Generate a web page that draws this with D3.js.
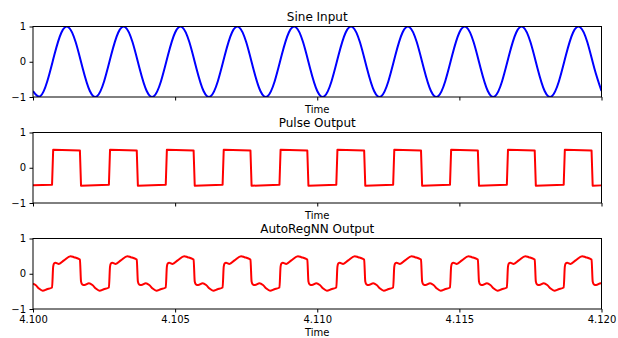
<!DOCTYPE html>
<html>
<head>
<meta charset="utf-8">
<script src="https://cdn.jsdelivr.net/npm/d3@7"></script>
<style>
  body { margin: 0; background: #fff; }
  text { font-family: "DejaVu Sans", sans-serif; }
</style>
</head>
<body>
<div id="chart"></div>
<script>
// time axis ticks
var xTicks = [4.100, 4.105, 4.110, 4.115, 4.120];
var yTicks = [-1, 0, 1];
var titles = ["Sine Input", "Pulse Output", "AutoRegNN Output"];

// sine input, [time, value]
var sineData = [
  [4.10000,-0.83],[4.10025,-0.98],[4.10050,-0.56],[4.10075,0.19],[4.10100,0.83],[4.10125,0.98],[4.10150,0.56],[4.10175,-0.19],
  [4.10200,-0.83],[4.10225,-0.98],[4.10250,-0.56],[4.10275,0.19],[4.10300,0.83],[4.10325,0.98],[4.10350,0.56],[4.10375,-0.19],
  [4.10400,-0.83],[4.10425,-0.98],[4.10450,-0.56],[4.10475,0.19],[4.10500,0.83],[4.10525,0.98],[4.10550,0.56],[4.10575,-0.19],
  [4.10600,-0.83],[4.10625,-0.98],[4.10650,-0.56],[4.10675,0.19],[4.10700,0.83],[4.10725,0.98],[4.10750,0.56],[4.10775,-0.19],
  [4.10800,-0.83],[4.10825,-0.98],[4.10850,-0.56],[4.10875,0.19],[4.10900,0.83],[4.10925,0.98],[4.10950,0.56],[4.10975,-0.19],
  [4.11000,-0.83],[4.11025,-0.98],[4.11050,-0.56],[4.11075,0.19],[4.11100,0.83],[4.11125,0.98],[4.11150,0.56],[4.11175,-0.19],
  [4.11200,-0.83],[4.11225,-0.98],[4.11250,-0.56],[4.11275,0.19],[4.11300,0.83],[4.11325,0.98],[4.11350,0.56],[4.11375,-0.19],
  [4.11400,-0.83],[4.11425,-0.98],[4.11450,-0.56],[4.11475,0.19],[4.11500,0.83],[4.11525,0.98],[4.11550,0.56],[4.11575,-0.19],
  [4.11600,-0.83],[4.11625,-0.98],[4.11650,-0.56],[4.11675,0.19],[4.11700,0.83],[4.11725,0.98],[4.11750,0.56],[4.11775,-0.19],
  [4.11800,-0.83],[4.11825,-0.98],[4.11850,-0.56],[4.11875,0.19],[4.11900,0.83],[4.11925,0.98],[4.11950,0.56],[4.11975,-0.19],
  [4.12000,-0.83]
];

// pulse output
var pulseData = [
  [4.10000,-0.50],
  [4.10067,-0.48],[4.10071,0.51],[4.10165,0.49],[4.10169,-0.51],
  [4.10267,-0.48],[4.10271,0.51],[4.10365,0.49],[4.10369,-0.51],
  [4.10467,-0.48],[4.10471,0.51],[4.10565,0.49],[4.10569,-0.51],
  [4.10667,-0.48],[4.10671,0.51],[4.10765,0.49],[4.10769,-0.51],
  [4.10867,-0.48],[4.10871,0.51],[4.10965,0.49],[4.10969,-0.51],
  [4.11067,-0.48],[4.11071,0.51],[4.11165,0.49],[4.11169,-0.51],
  [4.11267,-0.48],[4.11271,0.51],[4.11365,0.49],[4.11369,-0.51],
  [4.11467,-0.48],[4.11471,0.51],[4.11565,0.49],[4.11569,-0.51],
  [4.11667,-0.48],[4.11671,0.51],[4.11765,0.49],[4.11769,-0.51],
  [4.11867,-0.48],[4.11871,0.51],[4.11965,0.49],[4.11969,-0.51],
  [4.12000,-0.50]
];

// AutoRegNN output
var nnData = [
  [4.10000,-0.28],[4.10009,-0.32],[4.10021,-0.42],[4.10034,-0.48],[4.10049,-0.44],
  [4.10067,-0.39],[4.10071,0.20],[4.10074,0.29],[4.10079,0.31],[4.10091,0.28],[4.10109,0.38],[4.10132,0.50],[4.10144,0.47],[4.10161,0.42],[4.10165,0.40],[4.10169,-0.22],[4.10173,-0.30],[4.10181,-0.32],[4.10197,-0.27],[4.10209,-0.32],[4.10221,-0.42],[4.10234,-0.48],[4.10249,-0.44],
  [4.10267,-0.39],[4.10271,0.20],[4.10274,0.29],[4.10279,0.31],[4.10291,0.28],[4.10309,0.38],[4.10332,0.50],[4.10344,0.47],[4.10361,0.42],[4.10365,0.40],[4.10369,-0.22],[4.10373,-0.30],[4.10381,-0.32],[4.10397,-0.27],[4.10409,-0.32],[4.10421,-0.42],[4.10434,-0.48],[4.10449,-0.44],
  [4.10467,-0.39],[4.10471,0.20],[4.10474,0.29],[4.10479,0.31],[4.10491,0.28],[4.10509,0.38],[4.10532,0.50],[4.10544,0.47],[4.10561,0.42],[4.10565,0.40],[4.10569,-0.22],[4.10573,-0.30],[4.10581,-0.32],[4.10597,-0.27],[4.10609,-0.32],[4.10621,-0.42],[4.10634,-0.48],[4.10649,-0.44],
  [4.10667,-0.39],[4.10671,0.20],[4.10674,0.29],[4.10679,0.31],[4.10691,0.28],[4.10709,0.38],[4.10732,0.50],[4.10744,0.47],[4.10761,0.42],[4.10765,0.40],[4.10769,-0.22],[4.10773,-0.30],[4.10781,-0.32],[4.10797,-0.27],[4.10809,-0.32],[4.10821,-0.42],[4.10834,-0.48],[4.10849,-0.44],
  [4.10867,-0.39],[4.10871,0.20],[4.10874,0.29],[4.10879,0.31],[4.10891,0.28],[4.10909,0.38],[4.10932,0.50],[4.10944,0.47],[4.10961,0.42],[4.10965,0.40],[4.10969,-0.22],[4.10973,-0.30],[4.10981,-0.32],[4.10997,-0.27],[4.11009,-0.32],[4.11021,-0.42],[4.11034,-0.48],[4.11049,-0.44],
  [4.11067,-0.39],[4.11071,0.20],[4.11074,0.29],[4.11079,0.31],[4.11091,0.28],[4.11109,0.38],[4.11132,0.50],[4.11144,0.47],[4.11161,0.42],[4.11165,0.40],[4.11169,-0.22],[4.11173,-0.30],[4.11181,-0.32],[4.11197,-0.27],[4.11209,-0.32],[4.11221,-0.42],[4.11234,-0.48],[4.11249,-0.44],
  [4.11267,-0.39],[4.11271,0.20],[4.11274,0.29],[4.11279,0.31],[4.11291,0.28],[4.11309,0.38],[4.11332,0.50],[4.11344,0.47],[4.11361,0.42],[4.11365,0.40],[4.11369,-0.22],[4.11373,-0.30],[4.11381,-0.32],[4.11397,-0.27],[4.11409,-0.32],[4.11421,-0.42],[4.11434,-0.48],[4.11449,-0.44],
  [4.11467,-0.39],[4.11471,0.20],[4.11474,0.29],[4.11479,0.31],[4.11491,0.28],[4.11509,0.38],[4.11532,0.50],[4.11544,0.47],[4.11561,0.42],[4.11565,0.40],[4.11569,-0.22],[4.11573,-0.30],[4.11581,-0.32],[4.11597,-0.27],[4.11609,-0.32],[4.11621,-0.42],[4.11634,-0.48],[4.11649,-0.44],
  [4.11667,-0.39],[4.11671,0.20],[4.11674,0.29],[4.11679,0.31],[4.11691,0.28],[4.11709,0.38],[4.11732,0.50],[4.11744,0.47],[4.11761,0.42],[4.11765,0.40],[4.11769,-0.22],[4.11773,-0.30],[4.11781,-0.32],[4.11797,-0.27],[4.11809,-0.32],[4.11821,-0.42],[4.11834,-0.48],[4.11849,-0.44],
  [4.11867,-0.39],[4.11871,0.20],[4.11874,0.29],[4.11879,0.31],[4.11891,0.28],[4.11909,0.38],[4.11932,0.50],[4.11944,0.47],[4.11961,0.42],[4.11965,0.40],[4.11969,-0.22],[4.11973,-0.30],[4.11981,-0.32],[4.11997,-0.27],
  [4.12000,-0.28]
];

// create the chart area
var svgwidth = 618;
var svgheight = 338;
var left = 33, right = 601.5;
var panelheight = 70.5;
var panelTops = [26.5, 132.5, 238.5];

var svg = d3.select("#chart").append("svg")
  .attr("width", svgwidth)
  .attr("height", svgheight)
  .style("display", "block");

var xscale = d3.scaleLinear()
  .domain([4.100, 4.120])
  .range([left, right]);

var panels = [
  { data: sineData, color: "#0000ff", curve: d3.curveNatural },
  { data: pulseData, color: "#ff0000", curve: d3.curveLinear },
  { data: nnData, color: "#ff0000", curve: d3.curveMonotoneX }
];

panels.forEach(function(p, i) {
  var top = panelTops[i];
  var bottom = top + panelheight;
  var last = i === panels.length - 1;

  var yscale = d3.scaleLinear()
    .domain([-1, 1])
    .range([bottom, top]);

  var g = svg.append("g");

  // clip the line to the axes box
  g.append("clipPath")
    .attr("id", "clip" + i)
    .append("rect")
    .attr("x", left)
    .attr("y", top)
    .attr("width", right - left)
    .attr("height", panelheight);

  var line = d3.line()
    .x(d => xscale(d[0]))
    .y(d => yscale(d[1]))
    .curve(p.curve);

  g.append("path")
    .datum(p.data)
    .attr("clip-path", "url(#clip" + i + ")")
    .attr("fill", "none")
    .attr("stroke", p.color)
    .attr("stroke-width", 2)
    .attr("stroke-linejoin", "round")
    .attr("d", line);

  // frame
  g.append("rect")
    .attr("x", left)
    .attr("y", top)
    .attr("width", right - left)
    .attr("height", panelheight)
    .attr("fill", "none")
    .attr("stroke", "#000")
    .attr("stroke-width", 1);

  // y axis
  g.append("g")
    .attr("transform", `translate(${left}, 0)`)
    .call(d3.axisLeft(yscale).tickValues(yTicks).tickSize(3.5).tickPadding(3.5).tickFormat(d3.format("d")))
    .call(a => a.select(".domain").remove())
    .selectAll("text")
    .attr("font-family", "DejaVu Sans")
    .attr("font-size", "10px")
    .attr("fill", "#000");

  // x axis
  g.append("g")
    .attr("transform", `translate(0, ${bottom})`)
    .call(d3.axisBottom(xscale).tickValues(xTicks).tickSize(3.5).tickPadding(3.5)
      .tickFormat(last ? d3.format(".3f") : ""))
    .call(a => a.select(".domain").remove())
    .selectAll("text")
    .attr("font-family", "DejaVu Sans")
    .attr("font-size", "10px")
    .attr("fill", "#000");

  // title
  g.append("text")
    .attr("x", (left + right) / 2)
    .attr("y", top - 6)
    .attr("text-anchor", "middle")
    .attr("font-size", "12px")
    .attr("fill", "#000")
    .text(titles[i]);

  // axis label
  g.append("text")
    .attr("x", (left + right) / 2)
    .attr("y", bottom + (last ? 27 : 16))
    .attr("text-anchor", "middle")
    .attr("font-size", "10px")
    .attr("fill", "#000")
    .text("Time");
});
</script>
</body>
</html>
